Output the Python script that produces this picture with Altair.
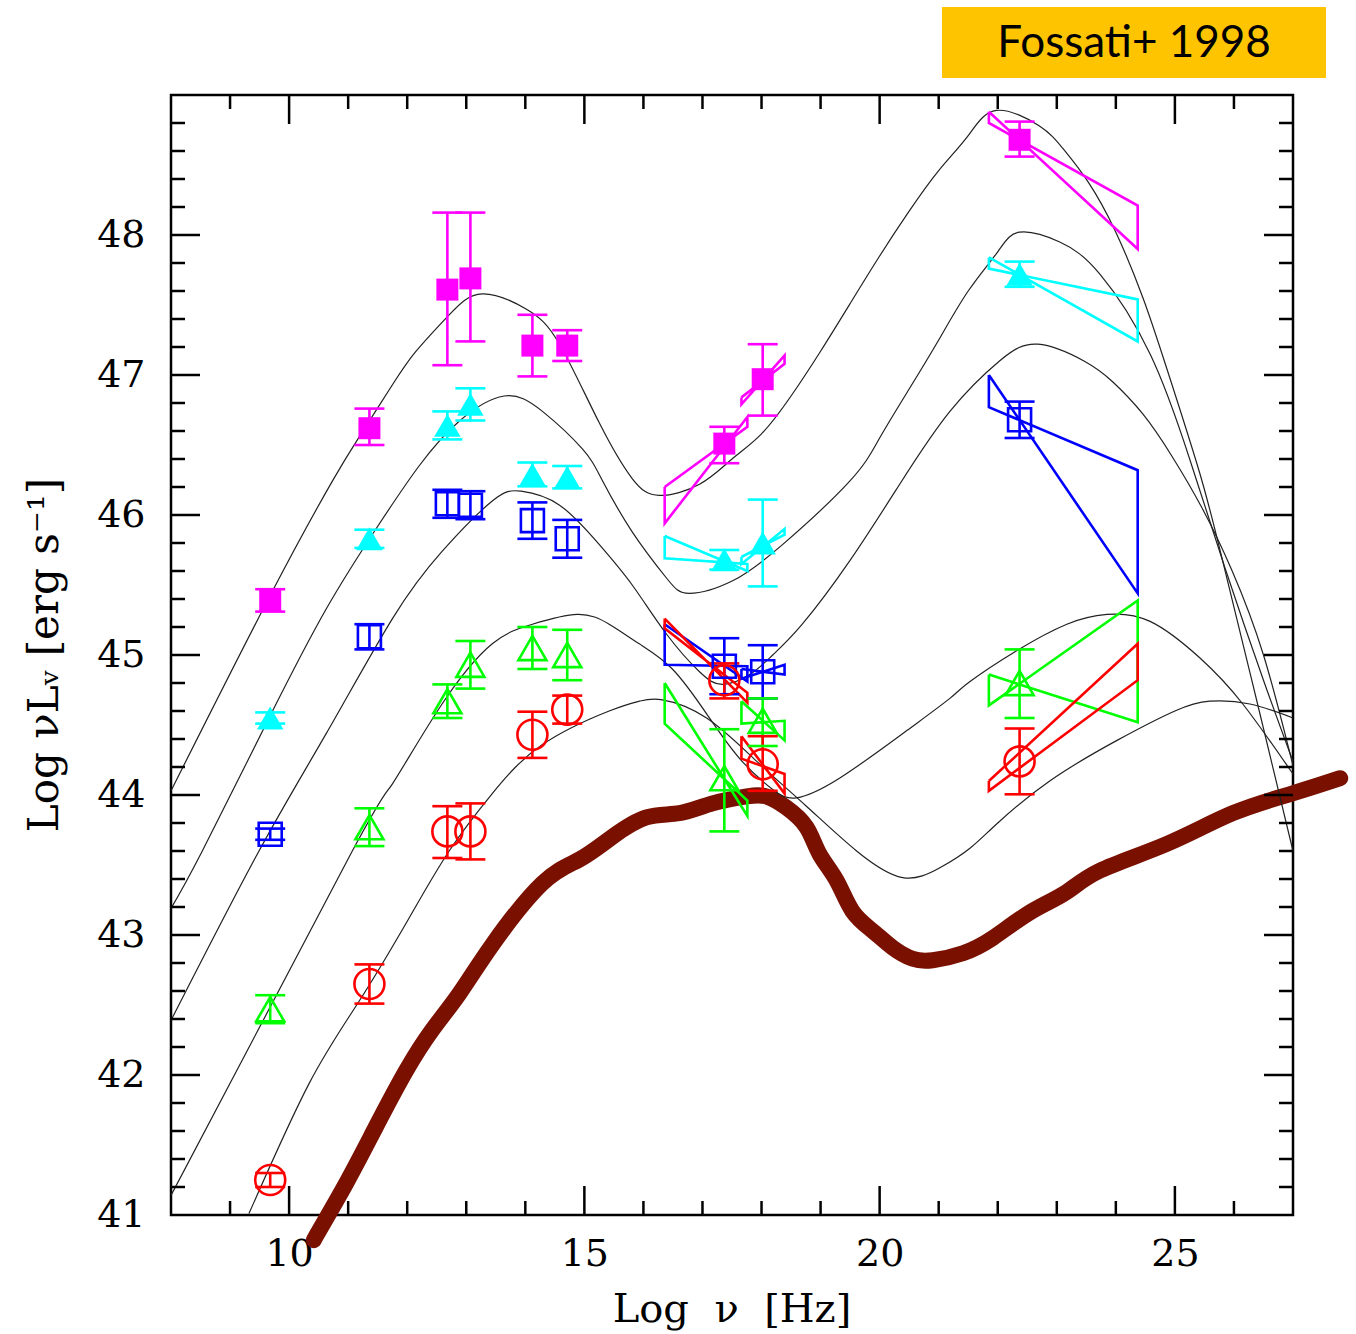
import altair as alt
import pandas as pd

W, H = 1122, 1120

# ---------------- data ----------------
nu_pts = [9.68, 11.36, 12.68, 13.07, 14.12, 14.71, 17.37, 18.02, 22.37]

mag_L = [45.39, 46.62, 47.61, 47.69, 47.21, 47.21, 46.51, 46.97, 48.68]
mag_up = [0.08, 0.14, 0.55, 0.47, 0.22, 0.11, 0.12, 0.25, 0.13]
mag_dn = [0.08, 0.12, 0.54, 0.45, 0.22, 0.11, 0.14, 0.26, 0.12]

cya_L = [44.55, 45.83, 46.64, 46.79, 46.29, 46.27, 45.68, 45.80, 47.72]
cya_up = [0.04, 0.065, 0.10, 0.115, 0.085, 0.08, 0.07, 0.31, 0.09]
cya_dn = [0.04, 0.065, 0.10, 0.115, 0.085, 0.08, 0.07, 0.31, 0.09]

blu_L = [43.72, 45.13, 46.08, 46.07, 45.96, 45.83, 44.92, 44.88, 46.68]
blu_up = [0.04, 0.09, 0.10, 0.10, 0.13, 0.135, 0.20, 0.19, 0.13]
blu_dn = [0.04, 0.09, 0.10, 0.10, 0.13, 0.135, 0.20, 0.19, 0.13]

grn_L = [42.47, 43.77, 44.67, 44.93, 45.05, 45.00, 44.12, 44.53, 44.80]
grn_up = [0.10, 0.135, 0.12, 0.17, 0.15, 0.18, 0.35, 0.16, 0.24]
grn_dn = [0.10, 0.135, 0.12, 0.17, 0.15, 0.18, 0.38, 0.18, 0.25]

red_L = [41.25, 42.65, 43.74, 43.74, 44.43, 44.61, 44.82, 44.22, 44.24]
red_up = [0.05, 0.14, 0.18, 0.20, 0.165, 0.10, 0.12, 0.20, 0.235]
red_dn = [0.05, 0.14, 0.19, 0.20, 0.165, 0.10, 0.13, 0.19, 0.235]

# bow-ties: four corners (nu, L) each
bow_nu_x = [16.36, 17.76, 17.76, 16.36]
bow_nu_x2 = [17.66, 18.39, 18.39, 17.66]
bow_nu_g = [21.85, 24.37, 24.37, 21.85]
mag_bx = [46.20, 46.63, 46.70, 45.94]
mag_bx2 = [46.84, 47.08, 47.14, 46.79]
mag_bg = [48.88, 47.90, 48.21, 48.80]
cya_bx = [45.85, 45.60, 45.65, 45.69]
cya_bx2 = [45.70, 45.86, 45.90, 45.65]
cya_bg = [47.84, 47.24, 47.54, 47.76]
blu_bx = [45.22, 44.81, 44.92, 44.93]
blu_bx2 = [44.90, 44.86, 44.93, 44.83]
blu_bg = [47.00, 45.44, 46.32, 46.77]
grn_bx = [44.80, 43.85, 43.96, 44.51]
grn_bx2 = [44.67, 44.39, 44.53, 44.51]
grn_bg = [44.86, 44.52, 45.39, 44.64]
red_bx = [45.26, 44.66, 44.73, 45.19]
red_bx2 = [44.42, 44.01, 44.15, 44.26]
red_bg = [44.10, 45.08, 44.82, 44.03]

# model curves (sequence)
c1_nu = [8.0, 9.71, 10.73, 11.19, 11.75, 12.15, 12.71, 13.27, 14.02, 14.58, 15.25, 15.81,
         16.27, 16.95, 17.5, 18.0, 18.5, 19.0, 19.5, 20.0, 20.5, 21.0, 21.5, 21.98, 22.7,
         23.1, 23.53, 24.0, 24.46, 24.86, 25.42, 25.81, 26.4, 27.0]
c1_L = [44.03, 45.45, 46.24, 46.56, 46.93, 47.17, 47.43, 47.58, 47.47, 47.22, 46.66, 46.26,
        46.14, 46.22, 46.40, 46.58, 46.85, 47.17, 47.51, 47.85, 48.17, 48.46, 48.71, 48.89, 48.78,
        48.62, 48.38, 48.02, 47.55, 47.05, 46.30, 45.67, 44.65, 43.60]
c2_nu = [8.0, 8.53, 9.66, 10.63, 11.47, 12.2, 12.88, 13.64, 14.29, 14.97, 15.3, 15.81, 16.39,
         16.78, 17.51, 18.36, 19.49, 20.0, 20.5, 21.0, 21.5, 22.0, 22.37, 23.05, 23.73, 24.58,
         25.25, 25.85, 26.5, 27.0]
c2_L = [43.19, 43.60, 44.55, 45.33, 45.90, 46.35, 46.67, 46.85, 46.74, 46.47, 46.25, 45.88, 45.55,
        45.44, 45.53, 45.79, 46.24, 46.55, 46.90, 47.25, 47.60, 47.88, 48.02, 47.95, 47.72, 47.15,
        46.40, 45.62, 44.82, 44.24]
c3_nu = [8.0, 9.49, 10.63, 11.75, 12.59, 13.44, 13.93, 14.58, 15.25, 15.81, 16.39, 16.95, 17.34,
         17.8, 18.19, 18.69, 19.49, 20.34, 21.19, 22.03, 22.68, 23.46, 23.95, 24.46, 24.95, 25.46,
         25.97, 26.5, 27.0]
c3_L = [42.39, 43.60, 44.44, 45.26, 45.74, 46.10, 46.17, 46.07, 45.79, 45.50, 45.15, 44.88, 44.79,
        44.86, 45.00, 45.22, 45.67, 46.22, 46.74, 47.10, 47.22, 47.10, 46.95, 46.72, 46.42, 46.05,
        45.60, 45.00, 44.21]
c4_nu = [8.0, 11.07, 11.75, 12.59, 13.44, 14.12, 14.88, 15.42, 15.93, 16.49, 17.07, 17.63, 18.19,
         18.59, 19.32, 20.46, 21.19, 21.53, 22.32, 23.17, 23.85, 24.58, 25.42, 26.15, 27.0]
c4_L = [41.14, 43.60, 44.08, 44.65, 45.08, 45.22, 45.29, 45.22, 45.08, 44.90, 44.58, 44.26, 44.04,
        43.98, 44.12, 44.46, 44.69, 44.81, 45.03, 45.22, 45.29, 45.24, 44.98, 44.65, 44.15]
c5_nu = [9.32, 10.34, 11.19, 12.03, 12.71, 13.44, 14.29, 15.42, 15.93, 16.32, 17.07, 17.92, 18.76,
         19.61, 20.39, 21.02, 21.53, 22.0, 22.88, 24.02, 25.0, 25.59, 26.27, 27.0]
c5_L = [41.01, 41.94, 42.53, 43.12, 43.60, 44.01, 44.36, 44.60, 44.67, 44.68, 44.55, 44.24, 43.92,
        43.60, 43.41, 43.48, 43.62, 43.80, 44.10, 44.39, 44.60, 44.67, 44.65, 44.55]

# observed SED (thick brown band)
sed_nu = [10.42, 10.51, 10.97, 11.47, 11.98, 12.42, 12.88, 13.44, 14.29, 14.92, 15.47, 16.05,
          16.61, 17.17, 17.75, 18.08, 18.42, 18.76, 18.98, 19.27, 19.54, 19.88, 20.22, 20.56,
          20.90, 21.41, 21.92, 22.54, 23.14, 23.73, 24.86, 25.98, 26.98, 27.80]
sed_L = [40.82, 40.89, 41.23, 41.63, 42.03, 42.32, 42.58, 42.93, 43.37, 43.54, 43.70, 43.84,
         43.87, 43.94, 43.99, 43.99, 43.91, 43.77, 43.58, 43.39, 43.17, 43.03, 42.91, 42.83,
         42.82, 42.87, 42.98, 43.16, 43.30, 43.46, 43.65, 43.87, 44.01, 44.12]

series_names = ["magenta", "cyan", "blue", "green", "red"]
series_colors = ["#ff00ff", "#00ffff", "#0000ff", "#00ff00", "#ff0000"]
series_shapes = ["square", "triangle-up", "square", "triangle-up", "circle"]
series_filled = [True, True, False, False, False]
series_sizes = [484, 700, 529, 784, 900]

x_major = [10, 15, 20, 25]
x_minor = [9, 11, 12, 13, 14, 16, 17, 18, 19, 21, 22, 23, 24, 26]
y_major = [42, 43, 44, 45, 46, 47, 48]
y_minor = [round(41 + 0.2 * i, 1) for i in range(1, 40) if i % 5 != 0]
y_labels = [41, 42, 43, 44, 45, 46, 47, 48]

banner_text = ["Fossati+ 1998"]
xtitle = ["Log\u00a0\u00a0\u03bd\u00a0\u00a0[Hz]"]
ytitle = ["Log \u03bdL\u1d65 [erg s\u207b\u00b9]"]

# ---------------- tables ----------------
all_L = [mag_L, cya_L, blu_L, grn_L, red_L]
all_up = [mag_up, cya_up, blu_up, grn_up, red_up]
all_dn = [mag_dn, cya_dn, blu_dn, grn_dn, red_dn]
rows = []
for s, L, up, dn in zip(series_names, all_L, all_up, all_dn):
    for n, l, u, d in zip(nu_pts, L, up, dn):
        rows.append({"s": s, "nu": n, "L": l, "lo": l - d, "hi": l + u})
pts = pd.DataFrame(rows)

bows = [
    ("magenta", bow_nu_x, mag_bx), ("magenta", bow_nu_x2, mag_bx2), ("magenta", bow_nu_g, mag_bg),
    ("cyan", bow_nu_x, cya_bx), ("cyan", bow_nu_x2, cya_bx2), ("cyan", bow_nu_g, cya_bg),
    ("blue", bow_nu_x, blu_bx), ("blue", bow_nu_x2, blu_bx2), ("blue", bow_nu_g, blu_bg),
    ("green", bow_nu_x, grn_bx), ("green", bow_nu_x2, grn_bx2), ("green", bow_nu_g, grn_bg),
    ("red", bow_nu_x, red_bx), ("red", bow_nu_x2, red_bx2), ("red", bow_nu_g, red_bg),
]
brows = []
for i, (s, nus, Ls) in enumerate(bows):
    seq = list(zip(nus, Ls)) + [(nus[0], Ls[0])]
    for k, (n, l) in enumerate(seq):
        brows.append({"s": s, "b": i, "o": k, "nu": n, "L": l})
bow_df = pd.DataFrame(brows)

crows = []
for cid, (nus, Ls) in enumerate([(c1_nu, c1_L), (c2_nu, c2_L), (c3_nu, c3_L), (c4_nu, c4_L), (c5_nu, c5_L)]):
    for n, l in zip(nus, Ls):
        crows.append({"c": cid, "nu": n, "L": l})
curves = pd.DataFrame(crows)
sed = pd.DataFrame({"nu": sed_nu, "L": sed_L})

# ---------------- encodings ----------------
xs = alt.Scale(domain=[8, 27], nice=False, zero=False)
ys = alt.Scale(domain=[41, 49], nice=False, zero=False)
xaxis = alt.Axis(values=x_major, title=None, grid=False, ticks=False, tickSize=0, domain=False,
                 labelFont="DejaVu Serif", labelFontSize=38, labelColor="black",
                 labelPadding=20, labelFlush=False)
yaxis = alt.Axis(values=y_labels, title=None, grid=False, ticks=False, tickSize=0, domain=False,
                 labelFont="DejaVu Serif", labelFontSize=38, labelColor="black",
                 labelPadding=26, labelFlush=False)
X = lambda f: alt.X(f, type="quantitative", scale=xs, axis=xaxis)
Y = lambda f: alt.Y(f, type="quantitative", scale=ys, axis=yaxis)
col = alt.Color("s:N", scale=alt.Scale(domain=series_names, range=series_colors), legend=None)

layers = []
layers.append(alt.Chart(sed).mark_line(color="#7a1000", strokeWidth=16, interpolate="natural",
                                       strokeCap="round", strokeJoin="round").encode(x=X("nu"), y=Y("L")))
layers.append(alt.Chart(curves).mark_line(color="#222222", strokeWidth=1.2, interpolate="natural").encode(
    x=X("nu"), y=Y("L"), detail="c:N"))
layers.append(alt.Chart(bow_df).mark_line(strokeWidth=2.6, strokeJoin="miter").encode(
    x=X("nu"), y=Y("L"), color=col, detail="b:N", order="o:Q"))
layers.append(alt.Chart(pts).mark_rule(strokeWidth=2.6).encode(
    x=X("nu"), y=Y("lo"), y2="hi:Q", color=col))
layers.append(alt.Chart(pts).mark_tick(orient="horizontal", size=30, thickness=2.6, opacity=1).encode(
    x=X("nu"), y=Y("lo"), color=col))
layers.append(alt.Chart(pts).mark_tick(orient="horizontal", size=30, thickness=2.6, opacity=1).encode(
    x=X("nu"), y=Y("hi"), color=col))
for s, c, shp, fl, sz in zip(series_names, series_colors, series_shapes, series_filled, series_sizes):
    sub = pts[pts["s"] == s]
    if fl:
        mk = alt.Chart(sub).mark_point(shape=shp, filled=True, size=sz, opacity=1, color=c, strokeWidth=0)
    else:
        mk = alt.Chart(sub).mark_point(shape=shp, filled=False, size=sz, opacity=1, color=c, strokeWidth=2.6)
    layers.append(mk.encode(x=X("nu"), y=Y("L")))

# inward ticks on all four sides
tk = dict(color="black", strokeWidth=2.5)
dxM = pd.DataFrame({"v": x_major})
dxm = pd.DataFrame({"v": x_minor})
dyM = pd.DataFrame({"v": y_major})
dym = pd.DataFrame({"v": y_minor})
for d, ln in [(dxM, 29), (dxm, 14)]:
    layers.append(alt.Chart(d).mark_rule(**tk).encode(x=X("v"), y=alt.value(H), y2=alt.value(H - ln)))
    layers.append(alt.Chart(d).mark_rule(**tk).encode(x=X("v"), y=alt.value(0), y2=alt.value(ln)))
for d, ln in [(dyM, 29), (dym, 14)]:
    layers.append(alt.Chart(d).mark_rule(**tk).encode(y=Y("v"), x=alt.value(0), x2=alt.value(ln)))
    layers.append(alt.Chart(d).mark_rule(**tk).encode(y=Y("v"), x=alt.value(W - ln), x2=alt.value(W)))

# titles
layers.append(alt.Chart(pd.DataFrame({"t": xtitle})).mark_text(
    font="DejaVu Serif", fontSize=40, color="black", align="center", baseline="middle").encode(
    x=alt.value(561), y=alt.value(1215), text="t:N"))
layers.append(alt.Chart(pd.DataFrame({"t": ytitle})).mark_text(
    font="DejaVu Serif", fontSize=42, color="black", align="center", baseline="middle", angle=270).encode(
    x=alt.value(-126), y=alt.value(560), text="t:N"))

# banner
layers.append(alt.Chart(pd.DataFrame({"t": banner_text})).mark_rect(color="#ffc400").encode(
    x=alt.value(771), x2=alt.value(1155), y=alt.value(-88), y2=alt.value(-17)))
layers.append(alt.Chart(pd.DataFrame({"t": banner_text})).mark_text(
    font="Lato", fontSize=44, color="black", align="center", baseline="middle").encode(
    x=alt.value(963), y=alt.value(-51), text="t:N"))

chart = alt.layer(*layers).properties(
    width=W, height=H,
    autosize=alt.AutoSizeParams(type="none"),
    padding={"left": 171, "top": 95, "right": 63, "bottom": 119},
    background="white",
).configure_view(stroke="black", strokeWidth=2.5)

chart.save("out.html", embed_options={"renderer": "svg", "actions": False})
